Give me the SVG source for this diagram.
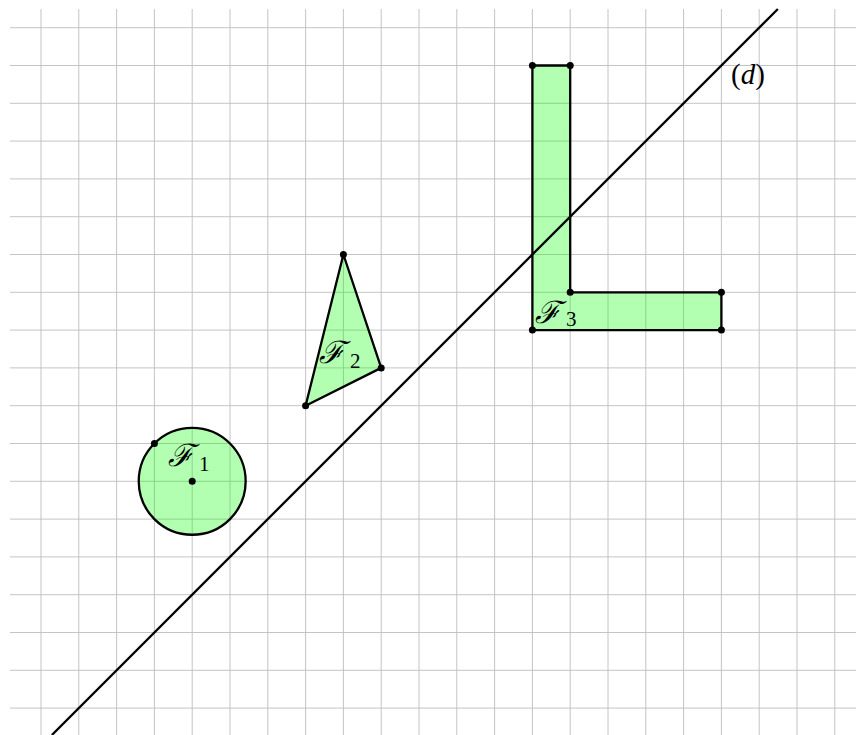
<svg xmlns="http://www.w3.org/2000/svg" width="856" height="735" viewBox="0 0 856 735">
<style>
.grid{stroke:#bdbdbd;stroke-width:0.9;fill:none}
.shape{fill:#00ff00;fill-opacity:0.3;stroke:#000;stroke-width:2.3;stroke-linejoin:round}
.dot{fill:#000}
.scr{font-family:"DejaVu Serif","Liberation Serif",serif;font-style:italic;font-size:31px}
.sub{font-family:"Liberation Serif",serif;font-size:21px}
.lbl{font-family:"Liberation Serif",serif;font-size:29px}
</style>
<rect width="856" height="735" fill="#fff"/>
<g id="grid">
<path class="grid" d="M41 9V735M78.8 9V735M116.6 9V735M154.4 9V735M192.2 9V735M230 9V735M267.8 9V735M305.6 9V735M343.4 9V735M381.2 9V735M419 9V735M456.8 9V735M494.6 9V735M532.4 9V735M570.2 9V735M608 9V735M645.8 9V735M683.6 9V735M721.4 9V735M759.2 9V735M797 9V735M834.8 9V735"/>
<path class="grid" d="M10 27.7H856M10 65.5H856M10 103.3H856M10 141.1H856M10 178.9H856M10 216.7H856M10 254.5H856M10 292.3H856M10 330.1H856M10 367.9H856M10 405.7H856M10 443.5H856M10 481.3H856M10 519.1H856M10 556.9H856M10 594.7H856M10 632.5H856M10 670.3H856M10 708.1H856"/>
</g>
<g id="F1">
<circle class="shape" cx="192.2" cy="481.3" r="53.46"/>
<circle class="dot" cx="192.2" cy="481.3" r="3.5"/>
<circle class="dot" cx="154.4" cy="443.5" r="3.5"/>
<text class="scr" x="168" y="466">ℱ</text>
<text class="sub" x="199" y="471">1</text>
</g>
<g id="F2">
<polygon class="shape" points="343.4,254.5 381.2,367.9 305.6,405.7"/>
<circle class="dot" cx="343.4" cy="254.5" r="3.5"/>
<circle class="dot" cx="381.2" cy="367.9" r="3.5"/>
<circle class="dot" cx="305.6" cy="405.7" r="3.5"/>
<text class="scr" x="319" y="363">ℱ</text>
<text class="sub" x="350" y="368">2</text>
</g>
<g id="F3">
<polygon class="shape" points="532.4,65.5 570.2,65.5 570.2,292.3 721.4,292.3 721.4,330.1 532.4,330.1"/>
<circle class="dot" cx="532.4" cy="65.5" r="3.5"/>
<circle class="dot" cx="570.2" cy="65.5" r="3.5"/>
<circle class="dot" cx="570.2" cy="292.3" r="3.5"/>
<circle class="dot" cx="721.4" cy="292.3" r="3.5"/>
<circle class="dot" cx="721.4" cy="330.1" r="3.5"/>
<circle class="dot" cx="532.4" cy="330.1" r="3.5"/>
<text class="scr" x="535" y="323">ℱ</text>
<text class="sub" x="566" y="326">3</text>
</g>
<g id="d">
<line x1="777.9" y1="9" x2="51.9" y2="735" stroke="#000" stroke-width="2.3"/>
<text class="lbl" x="731" y="84">(<tspan font-style="italic">d</tspan>)</text>
</g>
</svg>
